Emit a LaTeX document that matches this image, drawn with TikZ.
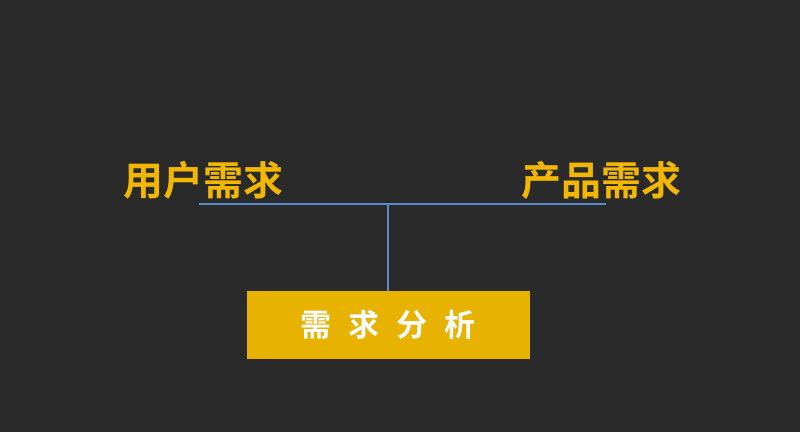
\documentclass[tikz,border=0pt]{standalone}
\usepackage{fontspec}
\newfontfamily\cjk{Noto Sans CJK SC}[BoldFont={Noto Sans CJK SC Bold}]
\definecolor{bgdark}{HTML}{2A2A2A}
\definecolor{needyellow}{HTML}{F2B705}
\definecolor{boxyellow}{HTML}{E8B200}
\definecolor{linkblue}{HTML}{5A8CCB}
\begin{document}
\begin{tikzpicture}[
   x=1pt, y=1pt,
   need/.style={text=needyellow, font=\cjk\bfseries\fontsize{40}{40}\selectfont, inner sep=0pt},
   box/.style={fill=boxyellow, text=white, minimum width=283pt, minimum height=68pt, inner sep=0pt, font=\cjk\bfseries\fontsize{31}{31}\selectfont},
   link/.style={-, draw=linkblue, line width=1.6pt}
]
\useasboundingbox (0,0) rectangle (800,432);
\fill[bgdark] (0,0) rectangle (800,432);
% two kinds of need
\node[need] (user) at (203,252) {用户需求};
\node[need] (product) at (601,252) {产品需求};
\coordinate (lineL) at (199,228);
\coordinate (lineR) at (606,228);
\coordinate (join) at (388,228);
% analysis box
\node[box] (analysis) at (388,107) {需\hspace{17pt}求\hspace{17pt}分\hspace{17pt}析};
\draw[link] (lineL) -- (lineR);
\draw[link] (join) -- (analysis.north);
\end{tikzpicture}
\end{document}
